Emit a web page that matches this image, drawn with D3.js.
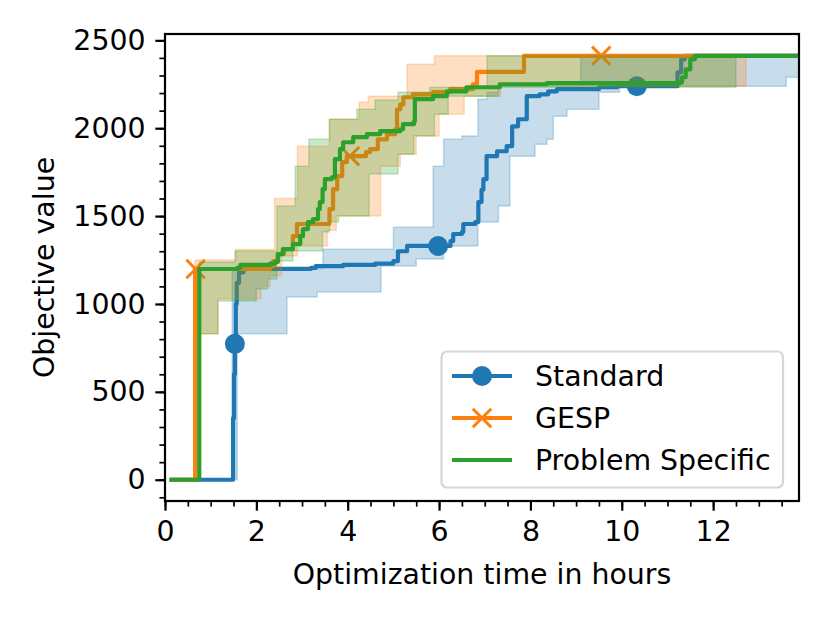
<!DOCTYPE html>
<html>
<head>
<meta charset="utf-8">
<script src="https://cdn.jsdelivr.net/npm/d3@7"></script>
<style>
  body { margin: 0; background: #fff; }
  text { font-family: 'DejaVu Sans', sans-serif; fill: #000; }
</style>
</head>
<body>
<svg id="chart"></svg>
<script>
// values, [hours, objective]
const standardLine = [[0.1, 0], [1.47, 0], [1.49, 350], [1.51, 600], [1.53, 773], [1.55, 1000], [1.57, 1120], [1.62, 1180], [1.72, 1200], [3.2, 1205], [3.3, 1215], [3.9, 1222], [4.6, 1230], [5.0, 1244], [5.1, 1300], [5.3, 1330], [6.25, 1358], [6.31, 1398], [6.5, 1409], [6.53, 1455], [6.79, 1466], [6.86, 1580], [6.93, 1650], [6.97, 1710], [7.04, 1841], [7.27, 1869], [7.48, 1898], [7.6, 2011], [7.73, 2051], [7.92, 2182], [8.2, 2193], [8.39, 2210], [8.58, 2222], [9.5, 2233], [9.9, 2239], [11.17, 2239], [11.22, 2318], [11.3, 2392], [11.38, 2412], [13.88, 2412]]
const standardLow = [[0.1, 0], [1.58, 830], [2.67, 1040], [3.33, 1068], [4.73, 1216], [5.5, 1256], [6.1, 1330], [6.85, 1466], [7.3, 1557], [7.55, 1841], [8.1, 1909], [8.36, 1937], [8.5, 2068], [8.8, 2108], [9.5, 2205], [9.95, 2239], [13.6, 2290], [13.88, 2290]]
const standardHigh = [[0.1, 0], [1.47, 1200], [3.46, 1312], [5.0, 1437], [5.87, 1784], [6.1, 1937], [6.5, 1955], [6.85, 2165], [7.05, 2205], [7.3, 2250], [9.1, 2412], [13.88, 2412]]
const standardMarks = [[1.53, 773], [5.98, 1330], [10.33, 2239]]

const gespLine = [[0.1, 0], [0.65, 0], [0.66, 1199], [2.3, 1215], [2.37, 1244], [2.47, 1284], [2.6, 1312], [2.8, 1386], [2.89, 1455], [3.55, 1455], [3.6, 1540], [3.68, 1653], [3.77, 1727], [3.88, 1807], [3.98, 1841], [4.3, 1841], [4.4, 1864], [4.49, 1881], [4.66, 1937], [4.86, 1966], [5.04, 1994], [5.08, 2108], [5.15, 2136], [5.22, 2176], [5.43, 2193], [5.87, 2205], [6.24, 2222], [6.74, 2250], [6.83, 2321], [7.85, 2321], [7.86, 2412], [13.88, 2412]]
const gespLow = [[0.1, 0], [0.66, 830], [1.16, 1030], [2.1, 1100], [2.3, 1160], [2.55, 1273], [2.9, 1330], [3.55, 1420], [3.75, 1500], [4.72, 1784], [5.15, 1852], [5.5, 1955], [6.0, 2080], [6.55, 2182], [7.35, 2239], [12.72, 2412], [13.88, 2412]]
const gespHigh = [[0.1, 0], [0.66, 1250], [1.55, 1310], [2.4, 1600], [2.9, 1898], [3.6, 2051], [4.25, 2148], [4.45, 2182], [5.3, 2364], [5.9, 2412], [13.88, 2412]]
const gespMarks = [[0.67, 1199], [4.05, 1841], [9.55, 2412]]

const specificLine = [[0.1, 0], [0.74, 0], [0.75, 1199], [1.58, 1205], [1.65, 1222], [2.3, 1230], [2.41, 1239], [2.47, 1284], [2.58, 1312], [2.8, 1341], [2.96, 1386], [3.02, 1426], [3.13, 1466], [3.24, 1483], [3.35, 1540], [3.39, 1580], [3.45, 1653], [3.5, 1710], [3.65, 1720], [3.72, 1824], [3.83, 1881], [3.9, 1920], [4.12, 1949], [4.42, 1966], [4.71, 1983], [5.15, 1994], [5.21, 2023], [5.45, 2040], [5.47, 2165], [5.87, 2182], [6.17, 2210], [6.6, 2233], [7.33, 2250], [8.36, 2256], [11.28, 2261], [11.32, 2290], [11.4, 2335], [11.5, 2392], [11.6, 2412], [13.88, 2412]]
const specificLow = [[0.1, 0], [0.75, 830], [1.16, 1017], [2.0, 1085], [2.25, 1142], [2.45, 1244], [2.8, 1301], [3.45, 1409], [3.6, 1466], [3.8, 1500], [4.47, 1739], [5.1, 1852], [5.45, 1955], [5.9, 2080], [6.2, 2182], [7.3, 2233], [12.5, 2412], [13.88, 2412]]
const specificHigh = [[0.1, 0], [0.75, 1239], [1.53, 1301], [2.45, 1557], [2.85, 1784], [3.15, 1937], [3.6, 2051], [4.2, 2108], [4.6, 2160], [5.1, 2205], [5.8, 2233], [7.05, 2412], [13.88, 2412]]

const seriesNames = ['Standard', 'GESP', 'Problem Specific']
const seriesColors = ['#1f77b4', '#ff7f0e', '#2ca02c']
const xTicks = [0, 2, 4, 6, 8, 10, 12]
const yTicks = [0, 500, 1000, 1500, 2000, 2500]

const width = 830
const height = 623
const margin = {top: 34, right: 31, bottom: 122, left: 165}
const fontSize = 28.4

const svg = d3.select('#chart').attr('width', width).attr('height', height)

const x = d3.scaleLinear().domain([0, 13.88]).range([margin.left, width - margin.right])
const y = d3.scaleLinear().domain([-121, 2536]).range([height - margin.bottom, margin.top])

// value of a step series at time t
function stepAt (arr, t) {
  let v = arr[0][1]
  arr.forEach(d => { if (d[0] <= t) v = d[1] })
  return v
}

function bandRows (low, high) {
  const times = Array.from(new Set(low.map(d => d[0]).concat(high.map(d => d[0])))).sort((a, b) => a - b)
  return times.map(t => ({t, lo: stepAt(low, t), hi: stepAt(high, t)}))
}

const plot = svg.append('g')
svg.append('clipPath').attr('id', 'clip').append('rect')
  .attr('x', margin.left).attr('y', margin.top)
  .attr('width', width - margin.left - margin.right)
  .attr('height', height - margin.top - margin.bottom)
plot.attr('clip-path', 'url(#clip)')

const area = d3.area().curve(d3.curveStepAfter)
  .x(d => x(d.t)).y0(d => y(d.lo)).y1(d => y(d.hi))
const line = d3.line().curve(d3.curveStepAfter)
  .x(d => x(d[0])).y(d => y(d[1]))

const series = [
  {line: standardLine, low: standardLow, high: standardHigh, marks: standardMarks, marker: 'circle'},
  {line: gespLine, low: gespLow, high: gespHigh, marks: gespMarks, marker: 'cross'},
  {line: specificLine, low: specificLow, high: specificHigh, marks: [], marker: 'none'}
]

function drawMarker (g, kind, cx, cy, color) {
  if (kind === 'circle') {
    g.append('circle').attr('cx', cx).attr('cy', cy).attr('r', 10).attr('fill', color)
  } else if (kind === 'cross') {
    const s = 9.2
    g.append('path')
      .attr('d', `M${cx - s},${cy - s}L${cx + s},${cy + s}M${cx - s},${cy + s}L${cx + s},${cy - s}`)
      .attr('stroke', color).attr('stroke-width', 3).attr('fill', 'none')
  }
}

series.forEach((s, i) => {
  const color = seriesColors[i]
  plot.append('path')
    .datum(bandRows(s.low, s.high))
    .attr('d', area)
    .attr('fill', color).attr('fill-opacity', 0.25)
    .attr('stroke', color).attr('stroke-opacity', 0.25).attr('stroke-width', 1.5)
  plot.append('path')
    .datum(s.line)
    .attr('d', line)
    .attr('fill', 'none').attr('stroke', color).attr('stroke-width', 4.2)
    .attr('stroke-linejoin', 'round')
  s.marks.forEach(m => drawMarker(plot, s.marker, x(m[0]), y(m[1]), color))
})

// axes
const xAxis = d3.axisBottom(x).tickValues(xTicks).tickSize(9.7).tickPadding(9.7).tickFormat(d3.format('d'))
const xMinor = d3.axisBottom(x).tickValues(d3.range(0, 13.9, 0.5)).tickSize(5.6).tickFormat('')
const yAxis = d3.axisLeft(y).tickValues(yTicks).tickSize(9.7).tickPadding(9.7).tickFormat(d3.format('d'))
const yMinor = d3.axisLeft(y).tickValues(d3.range(-100, 2536, 100)).tickSize(5.6).tickFormat('')

const bottom = height - margin.bottom
svg.append('g').attr('transform', `translate(0,${bottom})`).call(xMinor)
  .call(g => g.selectAll('line').attr('stroke-width', 1.7))
svg.append('g').attr('transform', `translate(0,${bottom})`).call(xAxis)
  .call(g => g.selectAll('line').attr('stroke-width', 2.2))
  .call(g => g.selectAll('text').style('font-size', fontSize + 'px'))
svg.append('g').attr('transform', `translate(${margin.left},0)`).call(yMinor)
  .call(g => g.selectAll('line').attr('stroke-width', 1.7))
svg.append('g').attr('transform', `translate(${margin.left},0)`).call(yAxis)
  .call(g => g.selectAll('line').attr('stroke-width', 2.2))
  .call(g => g.selectAll('text').style('font-size', fontSize + 'px'))
svg.selectAll('.domain').remove()

// spines
svg.append('rect')
  .attr('x', margin.left).attr('y', margin.top)
  .attr('width', width - margin.left - margin.right)
  .attr('height', height - margin.top - margin.bottom)
  .attr('fill', 'none').attr('stroke', '#000').attr('stroke-width', 2.2)

svg.append('text')
  .attr('x', (margin.left + width - margin.right) / 2).attr('y', 584)
  .attr('text-anchor', 'middle').style('font-size', fontSize + 'px')
  .text('Optimization time in hours')
svg.append('text')
  .attr('transform', `translate(54,${(margin.top + bottom) / 2}) rotate(-90)`)
  .attr('text-anchor', 'middle').style('font-size', fontSize + 'px')
  .text('Objective value')

// legend
const legend = svg.append('g')
legend.append('rect')
  .attr('x', 441.5).attr('y', 351.5).attr('width', 341.5).attr('height', 136)
  .attr('rx', 5.5).attr('fill', '#fff').attr('fill-opacity', 0.8)
  .attr('stroke', '#d6d6d6').attr('stroke-width', 2.2)
seriesNames.forEach((name, i) => {
  const ly = 376 + i * 42
  legend.append('line')
    .attr('x1', 452).attr('x2', 512).attr('y1', ly).attr('y2', ly)
    .attr('stroke', seriesColors[i]).attr('stroke-width', 4.2)
  drawMarker(legend, series[i].marker, 482, ly, seriesColors[i])
  legend.append('text')
    .attr('x', 535).attr('y', ly).attr('dy', '0.35em')
    .style('font-size', fontSize + 'px')
    .text(name)
})
</script>
</body>
</html>
